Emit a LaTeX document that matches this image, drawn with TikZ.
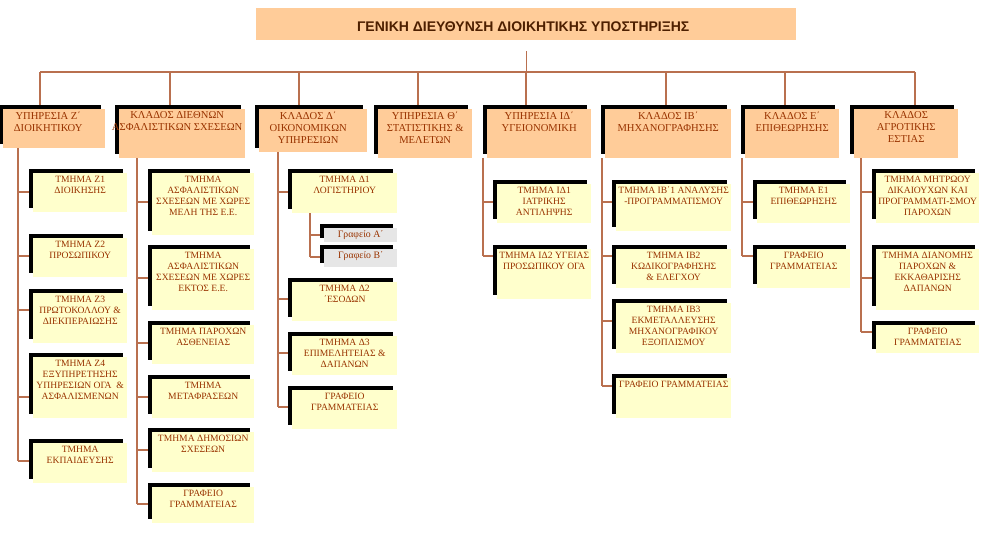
\documentclass[tikz,border=0pt]{standalone}
\usepackage{fontspec}
\setmainfont{Liberation Serif}
\newfontfamily\titlefont{Liberation Sans}
\usetikzlibrary{shadows,backgrounds}
\definecolor{peach}{HTML}{FFCC99}
\definecolor{paleyellow}{HTML}{FFFFCC}
\definecolor{paleg}{HTML}{E6E6E6}
\definecolor{txtbrown}{HTML}{993300}
\definecolor{linebrown}{HTML}{B9704F}
\definecolor{titlebrown}{HTML}{4D1F00}
\tikzset{
  boxbase/.style={rectangle, inner sep=0pt, anchor=north west,
    general shadow={fill=black, shadow xshift=-4pt, shadow yshift=4pt}},
  topbox/.style={boxbase, fill=peach},
  subbox/.style={boxbase, fill=paleyellow},
  officebox/.style={boxbase, fill=paleg},
  topboxtext/.style={anchor=north, align=center, inner sep=0pt, text=txtbrown,
    font=\fontsize{10.6}{12}\selectfont},
  subboxtext/.style={anchor=north, align=center, inner sep=0pt, text=txtbrown,
    font=\fontsize{9.6}{11.2}\selectfont},
  officeboxtext/.style={anchor=north, align=center, inner sep=0pt, text=txtbrown,
    font=\fontsize{9.8}{11}\selectfont},
  conn/.style={draw=linebrown, line width=1.3pt},
}
\newcommand\orgbox[8]{%
  \pgfmathsetmacro\obw{#5-#3}\pgfmathsetmacro\obh{#6-#4}%
  \node[#1, minimum width=\obw pt, minimum height=\obh pt] (#2) at (#3,#4) {};
  \node[#1text] (#2t) at ([xshift=#7pt,yshift=-2.5pt]#2.north) {#8};
}
\newcommand\childlink[3]{\draw[conn] (#1,#2) -- (#3.west |- #1,#2);}
\begin{document}
\begin{tikzpicture}[x=1pt,y=-1pt]
\useasboundingbox (0,0) rectangle (983,541);
% title
\node[fill=peach, inner sep=0pt, anchor=north west, minimum width=540pt, minimum height=32pt] (title) at (256,8) {};
\node[inner sep=0pt, text=titlebrown, font=\titlefont\bfseries\fontsize{14}{16}\selectfont] (titlet) at ([xshift=-3pt,yshift=-2pt]title.center) {ΓΕΝΙΚΗ ΔΙΕΥΘΥΝΣΗ ΔΙΟΙΚΗΤΙΚΗΣ ΥΠΟΣΤΗΡΙΞΗΣ};
% top level
\orgbox{topbox}{b1}{3}{109}{105}{148}{-6}{ΥΠΗΡΕΣΙΑ Ζ΄\\ΔΙΟΙΚΗΤΙΚΟΥ}
\orgbox{topbox}{b2}{119}{109}{245}{158}{-5}{ΚΛΑΔΟΣ ΔΙΕΘΝΩΝ\\ΑΣΦΑΛΙΣΤΙΚΩΝ ΣΧΕΣΕΩΝ}
\orgbox{topbox}{b3}{259}{109}{367}{152}{-5}{ΚΛΑΔΟΣ Δ΄\\ΟΙΚΟΝΟΜΙΚΩΝ\\ΥΠΗΡΕΣΙΩΝ}
\orgbox{topbox}{b4}{378}{109}{472}{158}{0}{ΥΠΗΡΕΣΙΑ Θ΄\\ΣΤΑΤΙΣΤΙΚΗΣ \&\\ΜΕΛΕΤΩΝ}
\orgbox{topbox}{b5}{487}{109}{591}{158}{0}{ΥΠΗΡΕΣΙΑ ΙΔ΄\\ΥΓΕΙΟΝΟΜΙΚΗ}
\orgbox{topbox}{b6}{605}{109}{731}{158}{0}{ΚΛΑΔΟΣ ΙΒ΄\\ΜΗΧΑΝΟΓΡΑΦΗΣΗΣ}
\orgbox{topbox}{b7}{745}{109}{839}{158}{0}{ΚΛΑΔΟΣ Ε΄\\ΕΠΙΘΕΩΡΗΣΗΣ}
\orgbox{topbox}{b8}{854}{109}{958}{158}{0}{ΚΛΑΔΟΣ\\ΑΓΡΟΤΙΚΗΣ\\ΕΣΤΙΑΣ}
% column 1
\orgbox{subbox}{c11}{33}{173}{127}{212}{0}{ΤΜΗΜΑ Ζ1\\ΔΙΟΙΚΗΣΗΣ}
\orgbox{subbox}{c12}{33}{238}{127}{277}{0}{ΤΜΗΜΑ Ζ2\\ΠΡΟΣΩΠΙΚΟΥ}
\orgbox{subbox}{c13}{33}{293}{127}{343}{0}{ΤΜΗΜΑ Ζ3\\ΠΡΩΤΟΚΟΛΛΟΥ \&\\ΔΙΕΚΠΕΡΑΙΩΣΗΣ}
\orgbox{subbox}{c14}{33}{357}{127}{418}{0}{ΤΜΗΜΑ Ζ4\\ΕΞΥΠΗΡΕΤΗΣΗΣ\\ΥΠΗΡΕΣΙΩΝ ΟΓΑ \ \&\\ΑΣΦΑΛΙΣΜΕΝΩΝ}
\orgbox{subbox}{c15}{33}{443}{127}{483}{0}{ΤΜΗΜΑ\\ΕΚΠΑΙΔΕΥΣΗΣ}
% column 2
\orgbox{subbox}{c21}{152}{173}{254}{235}{0}{ΤΜΗΜΑ\\ΑΣΦΑΛΙΣΤΙΚΩΝ\\ΣΧΕΣΕΩΝ ΜΕ ΧΩΡΕΣ\\ΜΕΛΗ ΤΗΣ Ε.Ε.}
\orgbox{subbox}{c22}{152}{249}{254}{310}{0}{ΤΜΗΜΑ\\ΑΣΦΑΛΙΣΤΙΚΩΝ\\ΣΧΕΣΕΩΝ ΜΕ ΧΩΡΕΣ\\ΕΚΤΟΣ Ε.Ε.}
\orgbox{subbox}{c23}{152}{325}{254}{364}{0}{ΤΜΗΜΑ ΠΑΡΟΧΩΝ\\ΑΣΘΕΝΕΙΑΣ}
\orgbox{subbox}{c24}{152}{379}{254}{418}{0}{ΤΜΗΜΑ\\ΜΕΤΑΦΡΑΣΕΩΝ}
\orgbox{subbox}{c25}{152}{432}{254}{472}{0}{ΤΜΗΜΑ ΔΗΜΟΣΙΩΝ\\ΣΧΕΣΕΩΝ}
\orgbox{subbox}{c26}{152}{487}{254}{523}{0}{ΓΡΑΦΕΙΟ\\ΓΡΑΜΜΑΤΕΙΑΣ}
% column 3
\orgbox{subbox}{c31}{292}{173}{397}{213}{0}{ΤΜΗΜΑ Δ1\\ΛΟΓΙΣΤΗΡΙΟΥ}
\orgbox{officebox}{g1}{324}{228}{397}{242}{0}{Γραφείο Α΄}
\orgbox{officebox}{g2}{324}{249}{397}{267}{0}{Γραφείο Β΄}
\orgbox{subbox}{c32}{292}{282}{397}{321}{0}{ΤΜΗΜΑ Δ2\\΄ΕΣΟΔΩΝ}
\orgbox{subbox}{c33}{292}{336}{397}{375}{0}{ΤΜΗΜΑ Δ3\\ΕΠΙΜΕΛΗΤΕΙΑΣ \&\\ΔΑΠΑΝΩΝ}
\orgbox{subbox}{c34}{292}{390}{397}{429}{0}{ΓΡΑΦΕΙΟ\\ΓΡΑΜΜΑΤΕΙΑΣ}
% column 5
\orgbox{subbox}{c51}{497}{184}{591}{223}{0}{ΤΜΗΜΑ ΙΔ1\\ΙΑΤΡΙΚΗΣ\\ΑΝΤΙΛΗΨΗΣ}
\orgbox{subbox}{c52}{497}{249}{591}{299}{0}{ΤΜΗΜΑ ΙΔ2 ΥΓΕΙΑΣ\\ΠΡΟΣΩΠΙΚΟΥ ΟΓΑ}
% column 6
\orgbox{subbox}{c61}{616}{184}{731}{231}{0}{ΤΜΗΜΑ ΙΒ΄1 ΑΝΑΛΥΣΗΣ\\-ΠΡΟΓΡΑΜΜΑΤΙΣΜΟΥ}
\orgbox{subbox}{c62}{616}{249}{731}{288}{0}{ΤΜΗΜΑ ΙΒ2\\ΚΩΔΙΚΟΓΡΑΦΗΣΗΣ\\\& ΕΛΕΓΧΟΥ}
\orgbox{subbox}{c63}{616}{303}{731}{353}{0}{ΤΜΗΜΑ ΙΒ3\\ΕΚΜΕΤΑΛΛΕΥΣΗΣ\\ΜΗΧΑΝΟΓΡΑΦΙΚΟΥ\\ΕΞΟΠΛΙΣΜΟΥ}
\orgbox{subbox}{c64}{616}{378}{731}{418}{0}{ΓΡΑΦΕΙΟ ΓΡΑΜΜΑΤΕΙΑΣ}
% column 7
\orgbox{subbox}{c71}{757}{184}{850}{223}{0}{ΤΜΗΜΑ Ε1\\ΕΠΙΘΕΩΡΗΣΗΣ}
\orgbox{subbox}{c72}{757}{249}{850}{288}{0}{ΓΡΑΦΕΙΟ\\ΓΡΑΜΜΑΤΕΙΑΣ}
% column 8
\orgbox{subbox}{c81}{876}{173}{979}{223}{0}{ΤΜΗΜΑ ΜΗΤΡΩΟΥ\\ΔΙΚΑΙΟΥΧΩΝ ΚΑΙ\\ΠΡΟΓΡΑΜΜΑΤΙ-ΣΜΟΥ\\ΠΑΡΟΧΩΝ}
\orgbox{subbox}{c82}{876}{249}{979}{310}{0}{ΤΜΗΜΑ ΔΙΑΝΟΜΗΣ\\ΠΑΡΟΧΩΝ \&\\ΕΚΚΑΘΑΡΙΣΗΣ\\ΔΑΠΑΝΩΝ}
\orgbox{subbox}{c83}{876}{325}{979}{353}{0}{ΓΡΑΦΕΙΟ\\ΓΡΑΜΜΑΤΕΙΑΣ}
% connectors
\begin{scope}[on background layer]
  \coordinate (busL) at (40,72);
  \coordinate (busR) at (915,72);
  \draw[conn] ([yshift=-11pt]title.south) -- (title.south |- busL);
  \draw[conn] (busL) -- (busR);
  \foreach \dx/\bn in {40/b1,170/b2,299/b3,418/b4,526/b5,666/b6,785/b7,915/b8}{
    \draw[conn] (\dx,72) -- (\bn.north -| \dx,72);
  }
  % column 1
  \draw[conn] (b1.south -| 18,0) -- (18,461);
  \childlink{18}{192}{c11}\childlink{18}{256}{c12}\childlink{18}{310}{c13}
  \childlink{18}{397}{c14}\childlink{18}{461}{c15}
  % column 2
  \draw[conn] (b2.south -| 137,0) -- (137,504);
  \childlink{137}{202}{c21}\childlink{137}{278}{c22}\childlink{137}{343}{c23}
  \childlink{137}{397}{c24}\childlink{137}{450}{c25}\childlink{137}{504}{c26}
  % column 3
  \draw[conn] (b3.south -| 278,0) -- (278,407);
  \childlink{278}{192}{c31}\childlink{278}{299}{c32}\childlink{278}{353}{c33}
  \childlink{278}{407}{c34}
  \draw[conn] (c31.south -| 310,0) -- (310,257);
  \childlink{310}{235}{g1}\childlink{310}{257}{g2}
  % column 5
  \draw[conn] (b5.south -| 483,0) -- (483,256);
  \childlink{483}{202}{c51}\childlink{483}{256}{c52}
  % column 6
  \draw[conn] (b6.south -| 602,0) -- (602,386);
  \childlink{602}{202}{c61}\childlink{602}{256}{c62}\childlink{602}{321}{c63}
  \childlink{602}{386}{c64}
  % column 7
  \draw[conn] (b7.south -| 742,0) -- (742,256);
  \childlink{742}{202}{c71}\childlink{742}{256}{c72}
  % column 8
  \draw[conn] (b8.south -| 861,0) -- (861,332);
  \childlink{861}{192}{c81}\childlink{861}{278}{c82}\childlink{861}{332}{c83}
\end{scope}
\end{tikzpicture}
\end{document}
